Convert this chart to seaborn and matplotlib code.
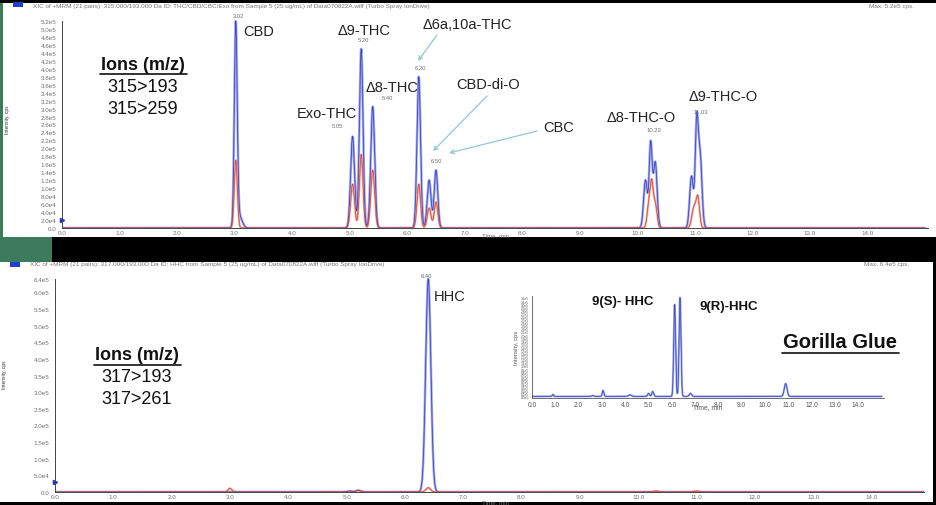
import numpy as np
import pandas as pd
import matplotlib
matplotlib.use("Agg")
import matplotlib.pyplot as plt
from matplotlib.patches import Rectangle
from matplotlib.lines import Line2D
import seaborn as sns

# ---------------- data ----------------
# Top panel: peaks of the 315>193 (blue) and 315>259 (red) MRM traces
TOP_BLUE_RT = [3.02, 3.08, 5.05, 5.20, 5.40, 6.20, 6.38, 6.50, 10.14, 10.23, 10.31, 10.94, 11.03, 11.09]
TOP_BLUE_H = [5.05e5, 3.0e4, 2.3e5, 4.5e5, 3.05e5, 3.8e5, 1.2e5, 1.45e5, 1.2e5, 2.1e5, 1.65e5, 1.3e5, 2.55e5, 1.8e5]
TOP_BLUE_W = [0.025, 0.05, 0.034, 0.031, 0.034, 0.031, 0.033, 0.031, 0.032, 0.026, 0.032, 0.032, 0.026, 0.032]

TOP_RED_RT = [3.02, 5.05, 5.20, 5.40, 6.20, 6.38, 6.50, 10.20, 10.25, 10.31, 10.98, 11.05]
TOP_RED_H = [1.7e5, 1.1e5, 1.85e5, 1.45e5, 1.1e5, 5.0e4, 6.5e4, 6.0e4, 1.0e5, 6.0e4, 5.0e4, 7.5e4]
TOP_RED_W = [0.027, 0.034, 0.031, 0.034, 0.031, 0.033, 0.031, 0.030, 0.026, 0.030, 0.035, 0.030]

# Bottom panel: 317>193 (blue) and 317>261 (red)
BOT_BLUE_RT = [5.05, 5.20, 6.40]
BOT_BLUE_H = [3.0e3, 5.0e3, 6.4e5]
BOT_BLUE_W = [0.04, 0.04, 0.044]

BOT_RED_RT = [3.00, 5.20, 6.40, 10.30, 11.00]
BOT_RED_H = [1.1e4, 5.0e3, 1.3e4, 3.0e3, 3.0e3]
BOT_RED_W = [0.03, 0.04, 0.04, 0.05, 0.05]

# Inset (Gorilla Glue), relative intensity
INSET_RT = [0.90, 2.60, 3.05, 4.20, 5.00, 5.18, 6.12, 6.35, 6.80, 10.88]
INSET_H = [0.02, 0.008, 0.06, 0.015, 0.03, 0.05, 0.93, 1.00, 0.03, 0.13]
INSET_W = [0.03, 0.05, 0.035, 0.06, 0.04, 0.04, 0.04, 0.04, 0.05, 0.06]

TOP_YTICKS = [i * 2.0e4 for i in range(27)]
BOT_YTICKS = [i * 5.0e4 for i in range(13)] + [6.4e5]
X_TICKS = list(range(15))

TOP_PEAK_LABELS = ["3.02", "5.05", "5.20", "5.40", "6.20", "6.50", "10.23", "11.03"]

# ---------------- helpers ----------------
W, H = 936, 506
sns.set_style("white")
plt.rcParams['font.family'] = ['Liberation Sans', 'DejaVu Sans']

def fx(x):
    return x / W

def fy(y):
    return 1 - y / H

def rect_px(x0, y0, x1, y1):
    return [fx(x0), fy(y1), (x1 - x0) / W, (y1 - y0) / H]

def trace(t, rts, hs, ws):
    y = np.zeros_like(t)
    for r, h, w in zip(rts, hs, ws):
        y += h * np.exp(-0.5 * ((t - r) / w) ** 2)
    return y

t = np.linspace(0, 15, 4501)

fig = plt.figure(figsize=(W / 100, H / 100), dpi=100, facecolor="black")

# background pieces
fig.patches.append(Rectangle((fx(0), fy(263)), fx(52), (263 - 4) / H, transform=fig.transFigure,
                             facecolor="#3b7a5c", edgecolor="none", zorder=-10))
fig.patches.append(Rectangle((fx(3), fy(238)), (936 - 3) / W, (238 - 4) / H, transform=fig.transFigure,
                             facecolor="white", edgecolor="none", zorder=-9))
fig.patches.append(Rectangle((fx(0), fy(503)), 933 / W, (503 - 263) / H, transform=fig.transFigure,
                             facecolor="white", edgecolor="none", zorder=-9))

BLUE = "#2435d0"
BLUE_L = "#a3a9e6"
RED = "#d23a2a"
RED_L = "#f0a596"
GRAY = "#707070"

def style_axes(ax, xmax, yticks, ylabels):
    ax.set_facecolor("none")
    ax.set_xlim(0, xmax)
    sns.despine(ax=ax, top=True, right=True)
    ax.spines['left'].set_bounds(0, yticks[-1])
    for s in ['left', 'bottom']:
        ax.spines[s].set_color("#444444")
        ax.spines[s].set_linewidth(0.7)
    ax.set_xticks(X_TICKS)
    ax.set_xticklabels([f"{v:.1f}" for v in X_TICKS])
    ax.set_xticks(np.arange(0, xmax, 0.2), minor=True)
    ax.set_yticks(yticks)
    ax.set_yticklabels(ylabels)
    ax.tick_params(axis='both', which='major', labelsize=4.5, labelcolor=GRAY, length=2.5,
                   width=0.5, color="#444444", direction='out')
    ax.tick_params(axis='y', which='major', pad=1.5)
    ax.tick_params(axis='x', which='major', pad=-1.0)
    ax.tick_params(axis='both', which='minor', length=1.2, width=0.4, color="#444444")
    ax.set_xlabel("")
    ax.set_ylabel("")

def draw_pair(ax, df):
    sub_b = df[df.ion == "a"]
    sub_r = df[df.ion == "b"]
    sns.lineplot(data=sub_b, x="t", y="i", ax=ax, color=BLUE_L, lw=1.8, estimator=None, sort=False)
    sns.lineplot(data=sub_r, x="t", y="i", ax=ax, color=RED_L, lw=1.5, estimator=None, sort=False)
    sns.lineplot(data=sub_b, x="t", y="i", ax=ax, color=BLUE, lw=0.55, alpha=0.9, estimator=None, sort=False)
    sns.lineplot(data=sub_r, x="t", y="i", ax=ax, color=RED, lw=0.5, alpha=0.9, estimator=None, sort=False)

def fmt_e(v):
    if v == 0:
        return "0.0"
    e = int(np.floor(np.log10(v)))
    m = v / 10 ** e
    return f"{m:.1f}e{e}"

# ---------------- top panel ----------------
ax1 = fig.add_axes(rect_px(62, 16, 928, 229))
df_top = pd.DataFrame({
    "t": np.concatenate([t, t]),
    "i": np.concatenate([trace(t, TOP_BLUE_RT, TOP_BLUE_H, TOP_BLUE_W),
                         trace(t, TOP_RED_RT, TOP_RED_H, TOP_RED_W)]),
    "ion": ["a"] * len(t) + ["b"] * len(t),
})
draw_pair(ax1, df_top)
ax1.set_ylim(0, 5.35e5)
style_axes(ax1, 15.05, TOP_YTICKS, [fmt_e(v) for v in TOP_YTICKS])
ax1.set_yticks(np.arange(0, 5.2e5, 4e3), minor=True)
ax1.plot([0], [2.0e4], marker=">", color=BLUE, ms=3, clip_on=False)

# peak retention-time labels
peak_lbl_pos = {"3.02": (238, 17), "5.05": (338, 126), "5.20": (364, 40), "5.40": (388, 99),
                "6.20": (420, 69), "6.50": (436, 162), "10.23": (654, 130), "11.03": (701, 113)}
for lbl in TOP_PEAK_LABELS:
    x, y = peak_lbl_pos[lbl]
    fig.text(fx(x), fy(y), lbl, fontsize=4.2, color=GRAY, ha="center", va="center")

fig.text(fx(495), fy(236), "Time, min", fontsize=4.5, color=GRAY, ha="center", va="center")
fig.text(fx(7), fy(120), "Intensity, cps", fontsize=3.5, color="#333333", rotation=90, ha="center", va="center")

# header
fig.patches.append(Rectangle((fx(13), fy(8)), 10 / W, 5 / H, transform=fig.transFigure,
                             facecolor="#1f3fd0", edgecolor="none"))
fig.text(fx(33), fy(6.5), "XIC of +MRM (21 pairs): 315.000/193.000 Da ID: THC/CBD/CBC/Exo from Sample 5 (25 ug/mL) of Data070822A.wiff (Turbo Spray IonDrive)",
         fontsize=4.6, color="#777777", ha="left", va="center")
fig.text(fx(869), fy(6.5), "Max. 5.2e5 cps.", fontsize=4.6, color="#777777", ha="left", va="center")

# compound labels
LBL = 10.5
for s, x, y in [("CBD", 243, 32), ("Δ9-THC", 338, 31), ("Exo-THC", 297, 114), ("Δ8-THC", 366, 88),
                ("Δ6a,10a-THC", 423, 25), ("CBD-di-O", 456, 85), ("CBC", 543, 128),
                ("Δ8-THC-O", 607, 118), ("Δ9-THC-O", 689, 97)]:
    fig.text(fx(x), fy(y), s, fontsize=LBL, color="#222222", ha="left", va="center")

fig.text(fx(143), fy(65), "Ions (m/z)", fontsize=13, fontweight="bold", color="#111111", ha="center", va="center")
fig.lines.append(Line2D([fx(100), fx(187)], [fy(75), fy(75)], transform=fig.transFigure, color="#111111", lw=1.2))
fig.text(fx(143), fy(87), "315>193", fontsize=13, color="#111111", ha="center", va="center")
fig.text(fx(143), fy(109), "315>259", fontsize=13, color="#111111", ha="center", va="center")

# arrows
TEAL = "#8fc9d2"
for (x0, y0), (x1, y1) in [((437, 36), (418, 62)), ((487, 97), (433, 152)), ((537, 132), (449, 154))]:
    ax1.annotate("", xy=(fx(x1), fy(y1)), xytext=(fx(x0), fy(y0)),
                 xycoords="figure fraction", textcoords="figure fraction",
                 arrowprops=dict(arrowstyle="->", color=TEAL, lw=0.9, shrinkA=0, shrinkB=0,
                                 mutation_scale=7))

# ---------------- bottom panel ----------------
ax2 = fig.add_axes(rect_px(55, 275, 924, 493))
df_bot = pd.DataFrame({
    "t": np.concatenate([t, t]),
    "i": np.concatenate([trace(t, BOT_BLUE_RT, BOT_BLUE_H, BOT_BLUE_W),
                         trace(t, BOT_RED_RT, BOT_RED_H, BOT_RED_W)]),
    "ion": ["a"] * len(t) + ["b"] * len(t),
})
draw_pair(ax2, df_bot)
ax2.set_ylim(0, 6.55e5)
style_axes(ax2, 14.9, BOT_YTICKS, [fmt_e(v) for v in BOT_YTICKS])
ax2.set_yticks(np.arange(0, 6.4e5, 1e4), minor=True)
ax2.plot([0], [3.0e4], marker=">", color=BLUE, ms=3, clip_on=False)

fig.text(fx(426), fy(277), "6.40", fontsize=4.2, color=GRAY, ha="center", va="center")
fig.text(fx(495), fy(503), "Time, min", fontsize=4.5, color=GRAY, ha="center", va="center")
fig.text(fx(5), fy(375), "Intensity, cps", fontsize=3.5, color="#333333", rotation=90, ha="center", va="center")

fig.patches.append(Rectangle((fx(10), fy(268)), 10 / W, 5 / H, transform=fig.transFigure,
                             facecolor="#1f3fd0", edgecolor="none"))
fig.text(fx(30), fy(265), "XIC of +MRM (21 pairs): 317.000/193.000 Da ID: HHC from Sample 5 (25 ug/mL) of Data070822A.wiff (Turbo Spray IonDrive)",
         fontsize=4.6, color="#777777", ha="left", va="center")
fig.text(fx(864), fy(265), "Max. 6.4e5 cps.", fontsize=4.6, color="#777777", ha="left", va="center")

fig.text(fx(434), fy(297), "HHC", fontsize=LBL, color="#222222", ha="left", va="center")
fig.text(fx(137), fy(356), "Ions (m/z)", fontsize=13, fontweight="bold", color="#111111", ha="center", va="center")
fig.lines.append(Line2D([fx(94), fx(181)], [fy(366), fy(366)], transform=fig.transFigure, color="#111111", lw=1.2))
fig.text(fx(137), fy(378), "317>193", fontsize=13, color="#111111", ha="center", va="center")
fig.text(fx(137), fy(400), "317>261", fontsize=13, color="#111111", ha="center", va="center")

# ---------------- inset ----------------
ax3 = fig.add_axes(rect_px(532, 297, 884, 399))
df_in = pd.DataFrame({"t": t, "i": trace(t, INSET_RT, INSET_H, INSET_W) + 0.004})
sns.lineplot(data=df_in, x="t", y="i", ax=ax3, color=BLUE_L, lw=1.5, estimator=None, sort=False)
sns.lineplot(data=df_in, x="t", y="i", ax=ax3, color="#3a48cc", lw=0.55, estimator=None, sort=False)
ax3.set_facecolor("none")
ax3.set_xlim(0, 15.1)
ax3.set_ylim(-0.012, 1.02)
sns.despine(ax=ax3, top=True, right=True)
for s in ['left', 'bottom']:
    ax3.spines[s].set_color("#555555")
    ax3.spines[s].set_linewidth(0.6)
ax3.set_xticks(X_TICKS)
ax3.set_xticklabels([f"{v:.1f}" for v in X_TICKS])
inset_yt = np.linspace(0, 1.0, 33)
ax3.set_yticks(inset_yt)
ax3.set_yticklabels([f"{v * 3.2:.1f}e5" for v in inset_yt])
ax3.tick_params(axis='x', labelsize=4.8, labelcolor="#555555", length=1.5, width=0.4, pad=1)
ax3.tick_params(axis='y', labelsize=2.3, labelcolor="#555555", length=1.5, width=0.4, pad=0.8)
ax3.set_xlabel("Time, min", fontsize=4.8, color="#555555", labelpad=-4)
ax3.set_ylabel("Intensity, cps", fontsize=4.2, color="#555555", labelpad=1)

fig.text(fx(592), fy(302), "9(S)- HHC", fontsize=9.5, fontweight="bold", color="#111111", ha="left", va="center")
fig.text(fx(700), fy(307), "9(R)-HHC", fontsize=9.5, fontweight="bold", color="#111111", ha="left", va="center")
fig.text(fx(840), fy(343), "Gorilla Glue", fontsize=14.5, fontweight="bold", color="#111111", ha="center", va="center")
fig.lines.append(Line2D([fx(782), fx(899)], [fy(354), fy(354)], transform=fig.transFigure, color="#111111", lw=1.2))

fig.savefig("out.png", dpi=100, facecolor=fig.get_facecolor())
